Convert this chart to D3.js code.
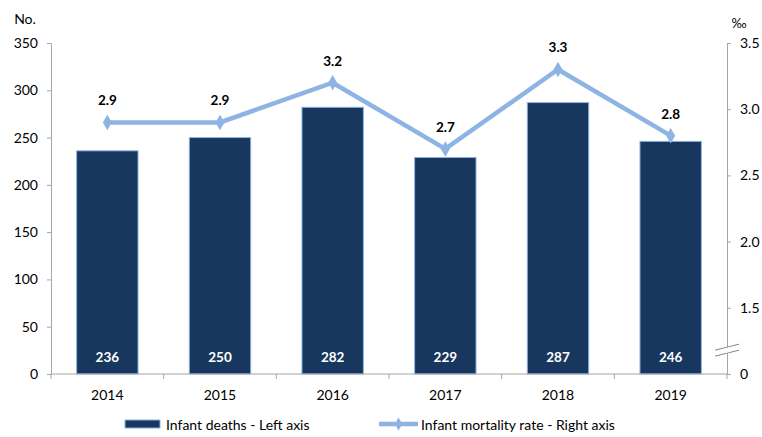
<!DOCTYPE html>
<html>
<head>
<meta charset="utf-8">
<script src="https://cdn.jsdelivr.net/npm/d3@7/dist/d3.min.js"></script>
<style>
  html, body { margin: 0; padding: 0; background: #fff; }
  svg { display: block; font-family: Lato, "Open Sans", sans-serif; }
</style>
</head>
<body>
<svg id="chart" width="762" height="437"></svg>
<script>
// Infant deaths (count, left axis) and infant mortality rate (‰, right axis)
const years = ["2014", "2015", "2016", "2017", "2018", "2019"];
const deaths = [236, 250, 282, 229, 287, 246];
const rates = [2.9, 2.9, 3.2, 2.7, 3.3, 2.8];
const leftTicks = [0, 50, 100, 150, 200, 250, 300, 350];
const rightTicks = [1.0, 1.5, 2.0, 2.5, 3.0, 3.5];
const rightTickLabels = ["0", "1.5", "2.0", "2.5", "3.0", "3.5"];

const barFill = "#17375E";
const barStroke = "#8DB4E2";
const lineColor = "#8DB4E2";
const axisColor = "#a6a6a6";

const svg = d3.select("#chart");
const m = { left: 51, right: 35, top: 43, bottom: 63 };
const W = 762, H = 437;
const x0 = m.left, x1 = W - m.right, yTop = m.top, yBot = H - m.bottom;

const x = d3.scaleBand().domain(years).range([x0, x1]).paddingInner(0.455).paddingOuter(0.2275);
const yL = d3.scaleLinear().domain([0, 350]).range([yBot, yTop]);
// right axis is broken below 1.5: the bottom value is drawn as 0
const yR = d3.scaleLinear().domain([1.0, 3.5]).range([yBot, yTop]);

// bars
svg.append("g").selectAll("rect").data(years).join("rect")
  .attr("x", d => x(d))
  .attr("y", (d, i) => yL(deaths[i]))
  .attr("width", x.bandwidth())
  .attr("height", (d, i) => yL(0) - yL(deaths[i]))
  .attr("fill", barFill)
  .attr("stroke", barStroke)
  .attr("stroke-width", 1);

// values inside bars
svg.append("g").selectAll("text").data(years).join("text")
  .attr("x", d => x(d) + x.bandwidth() / 2)
  .attr("y", yL(0) - 12)
  .attr("text-anchor", "middle")
  .attr("fill", "#fff")
  .attr("font-weight", "bold")
  .attr("font-size", 13.5)
  .text((d, i) => deaths[i]);

// left axis
const gL = svg.append("g").attr("transform", `translate(${x0},0)`)
  .call(d3.axisLeft(yL).tickValues(leftTicks).tickSize(4).tickPadding(9).tickSizeOuter(0));
gL.select(".domain").attr("stroke", axisColor);
gL.selectAll(".tick line").attr("stroke", axisColor);
gL.selectAll(".tick text").attr("font-size", 14).attr("fill", "#000").attr("font-family", "Lato, sans-serif");

// right axis
const gR = svg.append("g").attr("transform", `translate(${x1},0)`)
  .call(d3.axisRight(yR).tickValues(rightTicks).tickFormat((d, i) => rightTickLabels[i])
    .tickSize(4).tickPadding(9).tickSizeOuter(0));
gR.select(".domain").attr("stroke", axisColor);
gR.selectAll(".tick line").attr("stroke", axisColor);
gR.selectAll(".tick text").attr("font-size", 14).attr("fill", "#000").attr("font-family", "Lato, sans-serif");

// axis break marks
const brkY = yR(1.18);
[-3, 3].forEach(dy => {
  svg.append("line")
    .attr("x1", x1 - 12).attr("x2", x1 + 12)
    .attr("y1", brkY + dy + 3).attr("y2", brkY + dy - 3)
    .attr("stroke", "#888").attr("stroke-width", 1);
});
svg.append("polygon")
  .attr("points", `${x1 - 2},${brkY - 2} ${x1 + 2},${brkY - 3} ${x1 + 2},${brkY + 2} ${x1 - 2},${brkY + 3}`)
  .attr("fill", "#fff");

// bottom axis
const gB = svg.append("g").attr("transform", `translate(0,${yBot})`);
gB.append("line").attr("x1", x0).attr("x2", x1).attr("stroke", axisColor);
const bounds = years.map(d => x(d) - x.step() * x.paddingInner() / 2).concat([x1]);
gB.selectAll("line.tk").data(bounds).join("line").attr("class", "tk")
  .attr("x1", d => d).attr("x2", d => d).attr("y1", 0).attr("y2", 5).attr("stroke", axisColor);
gB.selectAll("text").data(years).join("text")
  .attr("x", d => x(d) + x.bandwidth() / 2)
  .attr("y", 26)
  .attr("text-anchor", "middle")
  .attr("font-size", 14)
  .text(d => d);

// rate line
const line = d3.line().x((d, i) => x(years[i]) + x.bandwidth() / 2).y(d => yR(d));
svg.append("path").datum(rates)
  .attr("d", line)
  .attr("fill", "none")
  .attr("stroke", lineColor)
  .attr("stroke-width", 4.5)
  .attr("stroke-linejoin", "miter");

const diamond = d3.symbol().type(d3.symbolDiamond).size(70);
svg.append("g").selectAll("path").data(rates).join("path")
  .attr("transform", (d, i) => `translate(${x(years[i]) + x.bandwidth() / 2},${yR(d)})`)
  .attr("d", diamond)
  .attr("fill", lineColor);

svg.append("g").selectAll("text").data(rates).join("text")
  .attr("x", (d, i) => x(years[i]) + x.bandwidth() / 2)
  .attr("y", d => yR(d) - 17)
  .attr("text-anchor", "middle")
  .attr("font-weight", "bold")
  .attr("font-size", 13.5)
  .text(d => d.toFixed(1));

// unit labels
svg.append("text").attr("x", 25).attr("y", 24).attr("text-anchor", "middle").attr("font-size", 14).text("No.");
svg.append("text").attr("x", 739).attr("y", 28).attr("text-anchor", "middle").attr("font-size", 13).text("‰");

// legend
const lg = svg.append("g").attr("transform", "translate(0,425)");
lg.append("rect").attr("x", 125).attr("y", -5).attr("width", 35).attr("height", 8)
  .attr("fill", barFill).attr("stroke", barStroke);
lg.append("text").attr("x", 166).attr("y", 5).attr("font-size", 14).text("Infant deaths - Left axis");
lg.append("line").attr("x1", 379).attr("x2", 418).attr("y1", -1).attr("y2", -1)
  .attr("stroke", lineColor).attr("stroke-width", 4.5);
lg.append("path").attr("transform", "translate(398.5,-1)").attr("d", d3.symbol().type(d3.symbolDiamond).size(50)).attr("fill", lineColor);
lg.append("text").attr("x", 421).attr("y", 5).attr("font-size", 14).text("Infant mortality rate - Right axis");
</script>
</body>
</html>
